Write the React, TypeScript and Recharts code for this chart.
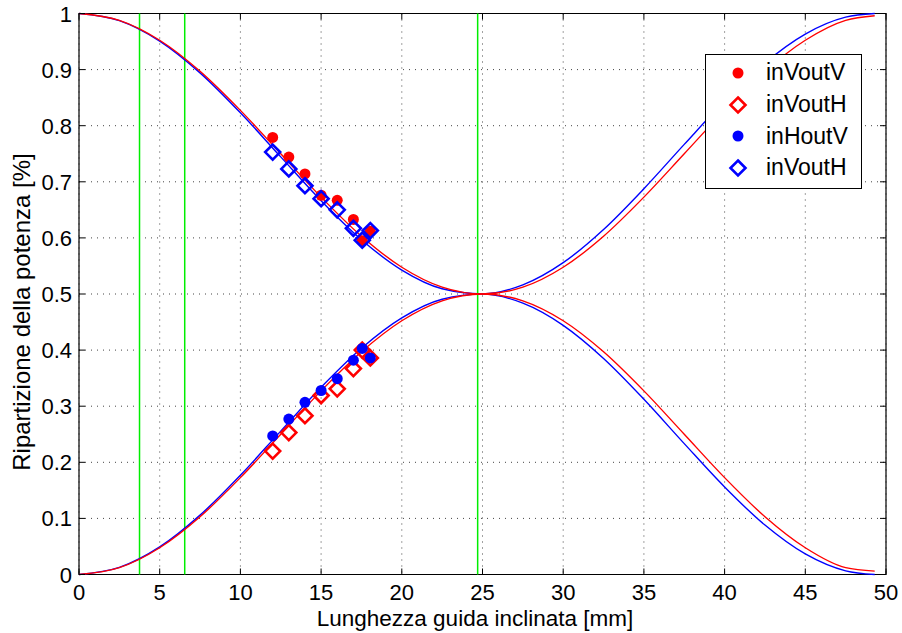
import React from 'react'
import { ComposedChart, Line, Scatter, XAxis, YAxis, CartesianGrid, ReferenceLine, ReferenceArea, Legend } from 'recharts'

// curve samples (mm -> fraction)
const curveX = [0, 2.5, 5, 7.5, 10, 12.5, 15, 17.5, 20, 22.5, 25, 27.5, 30, 32.5, 35, 37.5, 40, 42.5, 45, 47.5, 49.3]
const redUpper = [1, 0.9878, 0.9523, 0.897, 0.8273, 0.75, 0.6727, 0.603, 0.5477, 0.5122, 0.5, 0.5122, 0.5477, 0.603, 0.6727, 0.75, 0.8273, 0.897, 0.9523, 0.9878, 0.996]
const redLower = [0, 0.0122, 0.0477, 0.103, 0.1727, 0.25, 0.3273, 0.397, 0.4523, 0.4878, 0.5, 0.4878, 0.4523, 0.397, 0.3273, 0.25, 0.1727, 0.103, 0.0477, 0.0122, 0.006]
const blueUpper = [1, 0.9874, 0.9509, 0.8942, 0.823, 0.7444, 0.6664, 0.5968, 0.5426, 0.5093, 0.5003, 0.5163, 0.5559, 0.615, 0.6877, 0.7667, 0.844, 0.9119, 0.9634, 0.9935, 1]
const blueLower = [0, 0.0126, 0.0491, 0.1058, 0.177, 0.2556, 0.3336, 0.4032, 0.4574, 0.4907, 0.4997, 0.4837, 0.4441, 0.385, 0.3123, 0.2333, 0.156, 0.0881, 0.0366, 0.0065, 0]

// measured points
const measX = [12, 13, 14, 15, 16, 17, 17.55, 18.05]
const inVoutV = [0.779, 0.744, 0.714, 0.676, 0.667, 0.633, 0.595, 0.612]
const inVoutHred = [0.22, 0.253, 0.283, 0.319, 0.331, 0.367, 0.4, 0.386]
const inHoutV = [0.247, 0.277, 0.307, 0.328, 0.349, 0.382, 0.403, 0.386]
const inVoutHblue = [0.753, 0.723, 0.693, 0.67, 0.65, 0.617, 0.596, 0.613]

const greenLines = [3.75, 6.55, 24.7]
const xTicks = [0, 5, 10, 15, 20, 25, 30, 35, 40, 45, 50]
const yTicks = [0, 0.1, 0.2, 0.3, 0.4, 0.5, 0.6, 0.7, 0.8, 0.9, 1]

const curveData = curveX.map((x, i) => ({ x, redUp: redUpper[i], redLow: redLower[i], blueUp: blueUpper[i], blueLow: blueLower[i] }))
const pts = (ys: number[]) => measX.map((x, i) => ({ x, y: ys[i] }))

const TOP = 13.5
const BOTTOM = 574.5
const LEFT = 79
const RIGHT = 886
const FONT = '"Liberation Sans", Arial, sans-serif'

const Dot = (color: string) => (p: any) => <circle cx={p.cx} cy={p.cy} r={5.5} fill={color} />
const Diamond = (color: string) => (p: any) => (
  <path d={`M${p.cx},${p.cy - 7.5}L${p.cx + 7.5},${p.cy}L${p.cx},${p.cy + 7.5}L${p.cx - 7.5},${p.cy}Z`} fill="none" stroke={color} strokeWidth={2.6} />
)

const XTick = (p: any) => (
  <g>
    <line x1={p.x} x2={p.x} y1={BOTTOM} y2={BOTTOM - 6} stroke="#000" />
    <line x1={p.x} x2={p.x} y1={TOP} y2={TOP + 6} stroke="#000" />
    <text x={p.x} y={BOTTOM + 25} textAnchor="middle" fontSize={22} fontFamily={FONT} fill="#000">{p.payload.value}</text>
  </g>
)

const YTick = (p: any) => (
  <g>
    <line x1={LEFT} x2={LEFT + 6} y1={p.y} y2={p.y} stroke="#000" />
    <line x1={RIGHT} x2={RIGHT - 6} y1={p.y} y2={p.y} stroke="#000" />
    <text x={LEFT - 7} y={p.y + 8} textAnchor="end" fontSize={22} fontFamily={FONT} fill="#000">{p.payload.value}</text>
  </g>
)

const legendItems = [
  { name: 'inVoutV', color: '#ff0000', filled: true },
  { name: 'inVoutH', color: '#ff0000', filled: false },
  { name: 'inHoutV', color: '#0000ff', filled: true },
  { name: 'inVoutH', color: '#0000ff', filled: false },
]

const LegendBox = () => (
  <div style={{ width: 155, height: 131, border: '1px solid #000', background: '#fff', fontFamily: FONT, paddingTop: 2 }}>
    {legendItems.map((it, i) => (
      <div key={i} style={{ display: 'flex', alignItems: 'center', height: 31.7 }}>
        <svg width={60} height={20} style={{ flexShrink: 0 }}>
          {it.filled
            ? <circle cx={32} cy={10} r={5.5} fill={it.color} />
            : <path d="M32,2.5L39.5,10L32,17.5L24.5,10Z" fill="none" stroke={it.color} strokeWidth={2.6} />}
        </svg>
        <span style={{ fontSize: 23, color: '#000' }}>{it.name}</span>
      </div>
    ))}
  </div>
)

export default function App() {
  return (
    <div style={{ position: 'absolute', left: 0, top: 0, width: 902, height: 633, background: '#fff' }}>
      <ComposedChart width={902} height={633} data={curveData}
        margin={{ top: TOP, right: 902 - RIGHT, bottom: 633 - BOTTOM - 30, left: LEFT - 50 }}>
        <CartesianGrid stroke="#444" strokeDasharray="1 5" />
        <XAxis dataKey="x" type="number" domain={[0, 50]} ticks={xTicks} height={30} tickSize={0} tickMargin={0}
          axisLine={false} tickLine={false} tick={XTick} interval={0} />
        <YAxis type="number" domain={[0, 1]} ticks={yTicks} width={50} tickSize={0} tickMargin={0}
          axisLine={false} tickLine={false} tick={YTick} interval={0} />
        {greenLines.map((g) => (
          <ReferenceLine key={g} x={g} stroke="#00ee00" strokeWidth={1.5} />
        ))}
        <Scatter name="inVoutV" data={pts(inVoutV)} dataKey="y" shape={Dot('#ff0000')} isAnimationActive={false} />
        <Scatter name="inVoutH" data={pts(inVoutHred)} dataKey="y" shape={Diamond('#ff0000')} isAnimationActive={false} />
        <Scatter name="inHoutV" data={pts(inHoutV)} dataKey="y" shape={Dot('#0000ff')} isAnimationActive={false} />
        <Scatter name="inVoutH " data={pts(inVoutHblue)} dataKey="y" shape={Diamond('#0000ff')} isAnimationActive={false} />
        <Line dataKey="blueUp" type="monotone" stroke="#0000ff" strokeWidth={1.4} dot={false} isAnimationActive={false} />
        <Line dataKey="blueLow" type="monotone" stroke="#0000ff" strokeWidth={1.4} dot={false} isAnimationActive={false} />
        <Line dataKey="redUp" type="monotone" stroke="#ff0000" strokeWidth={1.4} dot={false} isAnimationActive={false} />
        <Line dataKey="redLow" type="monotone" stroke="#ff0000" strokeWidth={1.4} dot={false} isAnimationActive={false} />
        <ReferenceArea x1={0} x2={50} y1={0} y2={1} fill="none" stroke="#000" strokeWidth={1.2} fillOpacity={0} />
        <Legend layout="vertical" align="center" verticalAlign="middle" content={LegendBox}
          wrapperStyle={{ left: 705, top: 54, width: 157, height: 133 }} />
        <text x={475} y={626} textAnchor="middle" fontSize={22.5} fontFamily={FONT} fill="#000">Lunghezza guida inclinata [mm]</text>
        <text x={30} y={312} transform="rotate(-90 30 312)" textAnchor="middle" fontSize={24} fontFamily={FONT} fill="#000">Ripartizione della potenza [%]</text>
      </ComposedChart>
    </div>
  )
}
